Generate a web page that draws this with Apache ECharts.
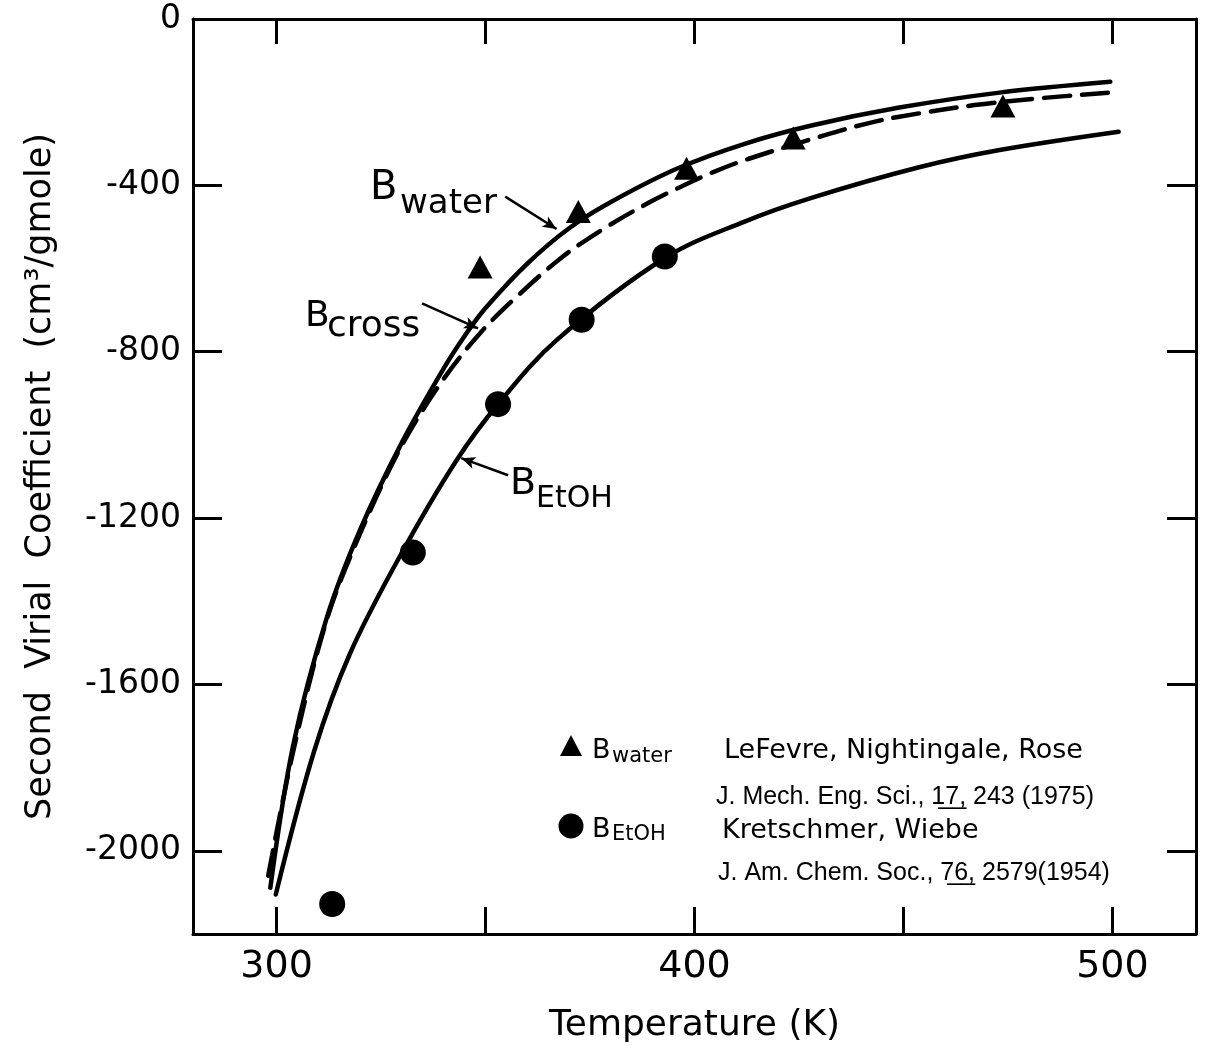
<!DOCTYPE html>
<html><head><meta charset="utf-8">
<script src="https://cdn.jsdelivr.net/npm/echarts@6/dist/echarts.min.js"></script>
<style>html,body{margin:0;padding:0;background:#fff}#c{width:1205px;height:1049px}</style>
</head><body><div id="c"></div>
<script>
// ---- data ----
const xTicks = [300, 350, 400, 450, 500];
const xLabels = [300, 400, 500];
const yTicks = [0, -400, -800, -1200, -1600, -2000];

const waterCurveT = [298.5, 304, 312, 320, 330, 340, 345, 350, 360, 370, 380, 396, 412, 428, 449, 473, 499.5];
const waterCurveB = [-2089, -1745, -1440, -1228, -1018, -840, -762, -695, -588, -503, -440, -359, -300, -256, -213, -177, -151];

const crossCurveT = [298, 304, 312, 320, 330, 340, 349, 357, 368, 378, 389, 396, 404.5, 413, 431, 441, 449, 467, 481, 500.5];
const crossCurveB = [-2060, -1760, -1445, -1237, -1025, -865, -752, -672, -575, -506, -442, -407, -368, -336, -280, -252, -235, -207, -192, -176];

const etohCurveT = [299.8, 309, 317.6, 329.6, 343, 353.4, 367, 393, 412, 428, 453.5, 473, 501.5];
const etohCurveB = [-2105, -1760, -1525, -1290, -1062, -921, -772, -574, -487, -430, -357, -315, -271];

const waterPtT = [348.7, 372.2, 398.1, 423.6, 473.8];
const waterPtB = [-596, -463, -359, -286, -209];

const etohPtT = [313.3, 332.6, 353.0, 373.0, 392.9];
const etohPtB = [-2128, -1283, -926, -723, -571];

// ---- build ----
const zip = (a, b) => a.map((v, i) => [v, b[i]]);
const FONT = '"DejaVu Sans", sans-serif';
const FONT2 = '"Liberation Sans", "DejaVu Sans", sans-serif';
const axisLine = {show: true, onZero: false, lineStyle: {color: '#000', width: 3}};
const tick = (vals, len) => ({show: true, inside: true, length: len, customValues: vals, lineStyle: {color: '#000', width: 3}});

const chart = echarts.init(document.getElementById('c'), null, {renderer: 'canvas'});

function txt(x, y, s, size, family) {
  return {type: 'text', x: x, y: y, silent: true,
    style: {text: s, fill: '#000', font: size + 'px ' + (family || FONT),
      align: 'left', verticalAlign: 'middle', textAlign: 'left', textVerticalAlign: 'middle'}};
}

const option = {
  backgroundColor: '#fff',
  animation: false,
  grid: {left: 193, right: 9, top: 19, bottom: 114, containLabel: false},
  xAxis: [
    {type: 'value', min: 280, max: 520, position: 'bottom',
      axisLine: axisLine, axisTick: tick(xTicks, 27), splitLine: {show: false},
      axisLabel: {customValues: xLabels, color: '#000', fontSize: 38, fontFamily: FONT, margin: 14,
        formatter: v => String(v)},
      name: 'Temperature (K)', nameLocation: 'middle', nameGap: 74,
      nameTextStyle: {color: '#000', fontSize: 36, fontFamily: FONT}},
    {type: 'value', min: 280, max: 520, position: 'top',
      axisLine: axisLine, axisTick: tick(xTicks, 25), splitLine: {show: false}, axisLabel: {show: false}}
  ],
  yAxis: [
    {type: 'value', min: -2200, max: 0, position: 'left',
      axisLine: axisLine, axisTick: tick(yTicks, 29), splitLine: {show: false},
      axisLabel: {customValues: yTicks, color: '#000', fontSize: 33, fontFamily: FONT, margin: 12,
        formatter: v => String(v)},
      name: 'Second  Virial  Coefficient  (cm³/gmole)', nameLocation: 'middle', nameGap: 135, nameRotate: 90,
      nameTextStyle: {color: '#000', fontSize: 35, fontFamily: FONT}},
    {type: 'value', min: -2200, max: 0, position: 'right',
      axisLine: axisLine, axisTick: tick(yTicks, 29), splitLine: {show: false}, axisLabel: {show: false}}
  ],
  series: [
    {name: 'Bwater', type: 'line', data: zip(waterCurveT, waterCurveB), showSymbol: false, smooth: 0.35,
      lineStyle: {color: '#000', width: 4.5, cap: 'round'}, silent: true,
      markLine: {silent: true, symbol: ['none', 'arrow'], symbolSize: [9, 14], label: {show: false},
        lineStyle: {color: '#000', width: 2.5, type: 'solid'},
        data: [[{coord: [354.7, -427]}, {coord: [367.0, -505]}]]}},
    {name: 'Bcross', type: 'line', data: zip(crossCurveT, crossCurveB), showSymbol: false, smooth: 0.35,
      lineStyle: {color: '#000', width: 4.5, type: [26, 12], cap: 'round'}, silent: true,
      markLine: {silent: true, symbol: ['none', 'arrow'], symbolSize: [9, 14], label: {show: false},
        lineStyle: {color: '#000', width: 2.5, type: 'solid'},
        data: [[{coord: [334.8, -684]}, {coord: [348.2, -744]}]]}},
    {name: 'BEtOH', type: 'line', data: zip(etohCurveT, etohCurveB), showSymbol: false, smooth: 0.35,
      lineStyle: {color: '#000', width: 4.5, cap: 'round'}, silent: true,
      markLine: {silent: true, symbol: ['none', 'arrow'], symbolSize: [9, 14], label: {show: false},
        lineStyle: {color: '#000', width: 2.5, type: 'solid'},
        data: [[{coord: [355.4, -1097]}, {coord: [344.2, -1056]}]]}},
    {name: 'water pts', type: 'scatter', data: zip(waterPtT, waterPtB), symbol: 'triangle', symbolSize: [25, 23],
      itemStyle: {color: '#000', opacity: 1}, silent: true, z: 5},
    {name: 'EtOH pts', type: 'scatter', data: zip(etohPtT, etohPtB), symbol: 'circle', symbolSize: 26,
      itemStyle: {color: '#000', opacity: 1}, silent: true, z: 5}
  ],
  graphic: [
    txt(370, 189, 'B', 40), txt(400, 204, 'water', 34),
    txt(305, 317, 'B', 36), txt(327, 327, 'cross', 36),
    txt(510, 484, 'B', 38), txt(536, 499, 'EtOH', 30),
    {type: 'polygon', silent: true, shape: {points: [[571, 735], [582, 756], [560, 756]]}, style: {fill: '#000'}},
    {type: 'circle', silent: true, shape: {cx: 571, cy: 826, r: 12.5}, style: {fill: '#000'}},
    txt(592, 751, 'B', 27), txt(612, 757, 'water', 21),
    txt(592, 830, 'B', 27), txt(612, 835, 'EtOH', 21),
    txt(724, 751, 'LeFevre, Nightingale, Rose', 27),
    txt(716, 797, 'J. Mech. Eng. Sci., 1\u03327\u0332, 243 (1975)', 25, FONT2),
    txt(722, 831, 'Kretschmer, Wiebe', 27),
    txt(718, 873, 'J. Am. Chem. Soc., 7\u03326\u0332, 2579(1954)', 25, FONT2)
  ]
};
chart.setOption(option);
</script>
</body></html>
